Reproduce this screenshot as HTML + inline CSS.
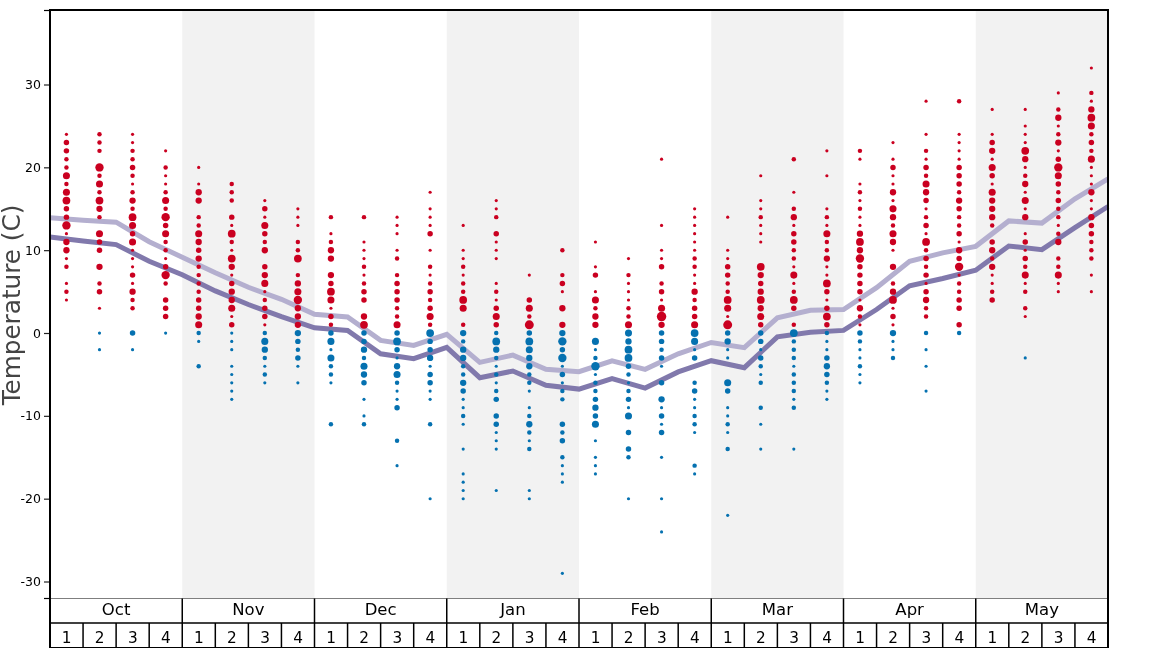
<!DOCTYPE html>
<html lang="en"><head><meta charset="utf-8"><title>Temperature</title>
<style>html,body{margin:0;padding:0;background:#fff}body{width:1168px;height:648px;overflow:hidden}svg{display:block}text{font-family:"DejaVu Sans","Liberation Sans",sans-serif;fill:#000}.t{font-size:12.5px;text-anchor:end}.m{font-size:16.5px;text-anchor:middle}.d{font-size:15.3px;text-anchor:middle}.yl{font-size:24.7px;fill:#444;text-anchor:middle}</style></head><body>
<svg width="1168" height="648" viewBox="0 0 1168 648">
<rect width="1168" height="648" fill="#fff"/>
<rect x="182.25" y="10.0" width="132.25" height="588.5" fill="#f2f2f2"/>
<rect x="446.75" y="10.0" width="132.25" height="588.5" fill="#f2f2f2"/>
<rect x="711.25" y="10.0" width="132.25" height="588.5" fill="#f2f2f2"/>
<rect x="975.75" y="10.0" width="132.25" height="588.5" fill="#f2f2f2"/>
<polyline points="50.00,217.70 83.06,220.20 116.12,222.20 149.19,241.70 182.25,257.20 215.31,272.70 248.38,287.30 281.44,299.30 314.50,314.25 347.56,316.90 380.62,340.40 413.69,345.40 446.75,334.35 479.81,362.40 512.88,355.10 545.94,369.30 579.00,371.70 612.06,360.90 645.12,369.30 678.19,353.80 711.25,342.45 744.31,347.60 777.38,317.80 810.44,310.30 843.50,309.55 876.56,287.70 909.62,261.40 942.69,252.90 975.75,246.35 1008.81,220.90 1041.88,223.10 1074.94,198.80 1108.00,178.80" fill="none" stroke="#b4afcf" stroke-width="5" stroke-linejoin="miter"/>
<polyline points="50.00,236.90 83.06,241.10 116.12,244.60 149.19,261.20 182.25,274.70 215.31,290.90 248.38,304.50 281.44,316.60 314.50,327.85 347.56,330.50 380.62,353.80 413.69,358.60 446.75,347.30 479.81,377.70 512.88,371.00 545.94,385.30 579.00,389.10 612.06,378.70 645.12,388.10 678.19,371.90 711.25,360.70 744.31,367.70 777.38,336.80 810.44,332.30 843.50,330.40 876.56,309.50 909.62,285.80 942.69,278.50 975.75,270.15 1008.81,246.00 1041.88,249.70 1074.94,227.70 1108.00,206.50" fill="none" stroke="#8179ac" stroke-width="5" stroke-linejoin="miter"/>
<g fill="#ca0020"><circle cx="66.43" cy="134.30" r="1.58"/><circle cx="66.43" cy="142.58" r="2.74"/><circle cx="66.43" cy="150.87" r="2.74"/><circle cx="66.43" cy="159.15" r="2.23"/><circle cx="66.43" cy="167.43" r="2.23"/><circle cx="66.43" cy="175.72" r="3.53"/><circle cx="66.43" cy="184.00" r="2.23"/><circle cx="66.43" cy="192.28" r="3.53"/><circle cx="66.43" cy="200.57" r="3.87"/><circle cx="66.43" cy="208.85" r="2.74"/><circle cx="66.43" cy="217.13" r="2.74"/><circle cx="66.43" cy="225.42" r="4.18"/><circle cx="66.43" cy="233.70" r="1.58"/><circle cx="66.43" cy="241.98" r="3.16"/><circle cx="66.43" cy="250.27" r="3.16"/><circle cx="66.43" cy="258.55" r="1.58"/><circle cx="66.43" cy="266.83" r="2.23"/><circle cx="66.43" cy="283.40" r="1.58"/><circle cx="66.43" cy="291.68" r="2.23"/><circle cx="66.43" cy="299.97" r="1.58"/></g>
<g fill="#ca0020"><circle cx="99.49" cy="134.30" r="2.23"/><circle cx="99.49" cy="142.58" r="2.23"/><circle cx="99.49" cy="150.87" r="2.23"/><circle cx="99.49" cy="167.43" r="4.18"/><circle cx="99.49" cy="175.72" r="2.23"/><circle cx="99.49" cy="184.00" r="3.53"/><circle cx="99.49" cy="192.28" r="2.23"/><circle cx="99.49" cy="200.57" r="3.87"/><circle cx="99.49" cy="208.85" r="3.16"/><circle cx="99.49" cy="217.13" r="2.23"/><circle cx="99.49" cy="233.70" r="3.53"/><circle cx="99.49" cy="241.98" r="2.74"/><circle cx="99.49" cy="250.27" r="2.74"/><circle cx="99.49" cy="266.83" r="3.16"/><circle cx="99.49" cy="283.40" r="2.23"/><circle cx="99.49" cy="291.68" r="2.74"/><circle cx="99.49" cy="308.25" r="1.58"/></g>
<g fill="#0571b0"><circle cx="99.49" cy="333.10" r="1.58"/><circle cx="99.49" cy="349.67" r="1.58"/></g>
<g fill="#ca0020"><circle cx="132.56" cy="134.30" r="1.58"/><circle cx="132.56" cy="142.58" r="1.58"/><circle cx="132.56" cy="150.87" r="2.23"/><circle cx="132.56" cy="159.15" r="2.23"/><circle cx="132.56" cy="167.43" r="2.74"/><circle cx="132.56" cy="175.72" r="2.23"/><circle cx="132.56" cy="184.00" r="1.58"/><circle cx="132.56" cy="192.28" r="2.23"/><circle cx="132.56" cy="200.57" r="3.16"/><circle cx="132.56" cy="208.85" r="2.23"/><circle cx="132.56" cy="217.13" r="3.87"/><circle cx="132.56" cy="225.42" r="3.53"/><circle cx="132.56" cy="233.70" r="2.74"/><circle cx="132.56" cy="241.98" r="3.53"/><circle cx="132.56" cy="250.27" r="1.58"/><circle cx="132.56" cy="258.55" r="1.58"/><circle cx="132.56" cy="266.83" r="1.58"/><circle cx="132.56" cy="275.12" r="2.74"/><circle cx="132.56" cy="283.40" r="1.58"/><circle cx="132.56" cy="291.68" r="3.16"/><circle cx="132.56" cy="299.97" r="2.23"/><circle cx="132.56" cy="308.25" r="2.23"/></g>
<g fill="#0571b0"><circle cx="132.56" cy="333.10" r="2.74"/><circle cx="132.56" cy="349.67" r="1.58"/></g>
<g fill="#ca0020"><circle cx="165.62" cy="150.87" r="1.58"/><circle cx="165.62" cy="167.43" r="2.23"/><circle cx="165.62" cy="175.72" r="1.58"/><circle cx="165.62" cy="184.00" r="1.58"/><circle cx="165.62" cy="192.28" r="2.23"/><circle cx="165.62" cy="200.57" r="3.53"/><circle cx="165.62" cy="208.85" r="2.23"/><circle cx="165.62" cy="217.13" r="4.18"/><circle cx="165.62" cy="225.42" r="2.74"/><circle cx="165.62" cy="233.70" r="3.53"/><circle cx="165.62" cy="241.98" r="2.23"/><circle cx="165.62" cy="250.27" r="2.23"/><circle cx="165.62" cy="258.55" r="1.58"/><circle cx="165.62" cy="266.83" r="2.74"/><circle cx="165.62" cy="275.12" r="4.18"/><circle cx="165.62" cy="283.40" r="2.23"/><circle cx="165.62" cy="299.97" r="2.74"/><circle cx="165.62" cy="308.25" r="2.74"/><circle cx="165.62" cy="316.53" r="2.74"/></g>
<g fill="#0571b0"><circle cx="165.62" cy="333.10" r="1.58"/></g>
<g fill="#ca0020"><circle cx="198.68" cy="167.43" r="1.58"/><circle cx="198.68" cy="184.00" r="1.58"/><circle cx="198.68" cy="192.28" r="3.16"/><circle cx="198.68" cy="200.57" r="3.16"/><circle cx="198.68" cy="217.13" r="2.23"/><circle cx="198.68" cy="225.42" r="2.23"/><circle cx="198.68" cy="233.70" r="3.53"/><circle cx="198.68" cy="241.98" r="3.16"/><circle cx="198.68" cy="250.27" r="2.74"/><circle cx="198.68" cy="258.55" r="3.16"/><circle cx="198.68" cy="266.83" r="2.23"/><circle cx="198.68" cy="275.12" r="2.23"/><circle cx="198.68" cy="283.40" r="2.23"/><circle cx="198.68" cy="291.68" r="2.23"/><circle cx="198.68" cy="299.97" r="2.74"/><circle cx="198.68" cy="308.25" r="2.74"/><circle cx="198.68" cy="316.53" r="3.16"/><circle cx="198.68" cy="324.82" r="3.53"/></g>
<g fill="#0571b0"><circle cx="198.68" cy="333.10" r="2.23"/><circle cx="198.68" cy="341.38" r="1.58"/><circle cx="198.68" cy="366.23" r="2.23"/></g>
<g fill="#ca0020"><circle cx="231.74" cy="184.00" r="2.23"/><circle cx="231.74" cy="192.28" r="2.23"/><circle cx="231.74" cy="200.57" r="2.23"/><circle cx="231.74" cy="217.13" r="2.74"/><circle cx="231.74" cy="225.42" r="1.58"/><circle cx="231.74" cy="233.70" r="3.87"/><circle cx="231.74" cy="241.98" r="2.23"/><circle cx="231.74" cy="250.27" r="1.58"/><circle cx="231.74" cy="258.55" r="3.87"/><circle cx="231.74" cy="266.83" r="3.16"/><circle cx="231.74" cy="275.12" r="1.58"/><circle cx="231.74" cy="283.40" r="2.74"/><circle cx="231.74" cy="291.68" r="3.16"/><circle cx="231.74" cy="299.97" r="3.16"/><circle cx="231.74" cy="308.25" r="3.53"/><circle cx="231.74" cy="316.53" r="1.58"/><circle cx="231.74" cy="324.82" r="2.74"/></g>
<g fill="#0571b0"><circle cx="231.74" cy="333.10" r="1.58"/><circle cx="231.74" cy="341.38" r="1.58"/><circle cx="231.74" cy="349.67" r="1.58"/><circle cx="231.74" cy="366.23" r="1.58"/><circle cx="231.74" cy="374.52" r="1.58"/><circle cx="231.74" cy="382.80" r="1.58"/><circle cx="231.74" cy="391.08" r="1.58"/><circle cx="231.74" cy="399.37" r="1.58"/></g>
<g fill="#ca0020"><circle cx="264.81" cy="200.57" r="1.58"/><circle cx="264.81" cy="208.85" r="2.74"/><circle cx="264.81" cy="217.13" r="1.58"/><circle cx="264.81" cy="225.42" r="3.53"/><circle cx="264.81" cy="233.70" r="2.74"/><circle cx="264.81" cy="241.98" r="2.23"/><circle cx="264.81" cy="250.27" r="3.16"/><circle cx="264.81" cy="266.83" r="2.74"/><circle cx="264.81" cy="275.12" r="3.16"/><circle cx="264.81" cy="283.40" r="3.53"/><circle cx="264.81" cy="291.68" r="1.58"/><circle cx="264.81" cy="299.97" r="2.23"/><circle cx="264.81" cy="308.25" r="2.74"/><circle cx="264.81" cy="316.53" r="2.74"/><circle cx="264.81" cy="324.82" r="1.58"/></g>
<g fill="#0571b0"><circle cx="264.81" cy="333.10" r="2.23"/><circle cx="264.81" cy="341.38" r="3.53"/><circle cx="264.81" cy="349.67" r="3.16"/><circle cx="264.81" cy="357.95" r="2.23"/><circle cx="264.81" cy="366.23" r="1.58"/><circle cx="264.81" cy="374.52" r="2.23"/><circle cx="264.81" cy="382.80" r="1.58"/></g>
<g fill="#ca0020"><circle cx="297.87" cy="208.85" r="1.58"/><circle cx="297.87" cy="217.13" r="1.58"/><circle cx="297.87" cy="225.42" r="1.58"/><circle cx="297.87" cy="241.98" r="2.23"/><circle cx="297.87" cy="250.27" r="2.23"/><circle cx="297.87" cy="258.55" r="3.87"/><circle cx="297.87" cy="275.12" r="2.23"/><circle cx="297.87" cy="283.40" r="3.16"/><circle cx="297.87" cy="291.68" r="3.53"/><circle cx="297.87" cy="299.97" r="4.18"/><circle cx="297.87" cy="308.25" r="3.16"/><circle cx="297.87" cy="316.53" r="3.16"/><circle cx="297.87" cy="324.82" r="3.16"/></g>
<g fill="#0571b0"><circle cx="297.87" cy="333.10" r="3.16"/><circle cx="297.87" cy="341.38" r="2.74"/><circle cx="297.87" cy="349.67" r="2.23"/><circle cx="297.87" cy="357.95" r="2.74"/><circle cx="297.87" cy="366.23" r="1.58"/><circle cx="297.87" cy="382.80" r="1.58"/></g>
<g fill="#ca0020"><circle cx="330.93" cy="217.13" r="2.23"/><circle cx="330.93" cy="233.70" r="1.58"/><circle cx="330.93" cy="241.98" r="2.23"/><circle cx="330.93" cy="250.27" r="3.16"/><circle cx="330.93" cy="258.55" r="3.16"/><circle cx="330.93" cy="275.12" r="3.16"/><circle cx="330.93" cy="283.40" r="2.74"/><circle cx="330.93" cy="291.68" r="3.87"/><circle cx="330.93" cy="299.97" r="3.53"/><circle cx="330.93" cy="308.25" r="1.58"/><circle cx="330.93" cy="316.53" r="2.74"/><circle cx="330.93" cy="324.82" r="2.23"/></g>
<g fill="#0571b0"><circle cx="330.93" cy="333.10" r="2.74"/><circle cx="330.93" cy="341.38" r="3.53"/><circle cx="330.93" cy="349.67" r="1.58"/><circle cx="330.93" cy="357.95" r="3.53"/><circle cx="330.93" cy="366.23" r="2.23"/><circle cx="330.93" cy="374.52" r="2.23"/><circle cx="330.93" cy="382.80" r="1.58"/><circle cx="330.93" cy="424.22" r="2.23"/></g>
<g fill="#ca0020"><circle cx="363.99" cy="217.13" r="2.23"/><circle cx="363.99" cy="241.98" r="1.58"/><circle cx="363.99" cy="250.27" r="1.58"/><circle cx="363.99" cy="258.55" r="1.58"/><circle cx="363.99" cy="266.83" r="2.23"/><circle cx="363.99" cy="275.12" r="1.58"/><circle cx="363.99" cy="283.40" r="2.23"/><circle cx="363.99" cy="291.68" r="2.74"/><circle cx="363.99" cy="299.97" r="2.74"/><circle cx="363.99" cy="316.53" r="3.16"/><circle cx="363.99" cy="324.82" r="3.87"/></g>
<g fill="#0571b0"><circle cx="363.99" cy="333.10" r="2.74"/><circle cx="363.99" cy="341.38" r="2.74"/><circle cx="363.99" cy="349.67" r="3.16"/><circle cx="363.99" cy="357.95" r="2.23"/><circle cx="363.99" cy="366.23" r="3.53"/><circle cx="363.99" cy="374.52" r="3.16"/><circle cx="363.99" cy="382.80" r="2.74"/><circle cx="363.99" cy="399.37" r="1.58"/><circle cx="363.99" cy="415.93" r="1.58"/><circle cx="363.99" cy="424.22" r="2.23"/></g>
<g fill="#ca0020"><circle cx="397.06" cy="217.13" r="1.58"/><circle cx="397.06" cy="225.42" r="1.58"/><circle cx="397.06" cy="233.70" r="1.58"/><circle cx="397.06" cy="250.27" r="1.58"/><circle cx="397.06" cy="258.55" r="2.23"/><circle cx="397.06" cy="275.12" r="2.23"/><circle cx="397.06" cy="283.40" r="2.74"/><circle cx="397.06" cy="291.68" r="2.74"/><circle cx="397.06" cy="299.97" r="2.74"/><circle cx="397.06" cy="308.25" r="2.23"/><circle cx="397.06" cy="316.53" r="2.23"/><circle cx="397.06" cy="324.82" r="3.53"/></g>
<g fill="#0571b0"><circle cx="397.06" cy="333.10" r="2.74"/><circle cx="397.06" cy="341.38" r="3.87"/><circle cx="397.06" cy="349.67" r="2.74"/><circle cx="397.06" cy="357.95" r="1.58"/><circle cx="397.06" cy="366.23" r="3.16"/><circle cx="397.06" cy="374.52" r="3.53"/><circle cx="397.06" cy="382.80" r="2.23"/><circle cx="397.06" cy="391.08" r="1.58"/><circle cx="397.06" cy="399.37" r="1.58"/><circle cx="397.06" cy="407.65" r="2.74"/><circle cx="397.06" cy="440.78" r="2.23"/><circle cx="397.06" cy="465.63" r="1.58"/></g>
<g fill="#ca0020"><circle cx="430.12" cy="192.28" r="1.58"/><circle cx="430.12" cy="208.85" r="1.58"/><circle cx="430.12" cy="217.13" r="1.58"/><circle cx="430.12" cy="225.42" r="1.58"/><circle cx="430.12" cy="233.70" r="2.74"/><circle cx="430.12" cy="250.27" r="1.58"/><circle cx="430.12" cy="266.83" r="2.23"/><circle cx="430.12" cy="275.12" r="1.58"/><circle cx="430.12" cy="283.40" r="2.23"/><circle cx="430.12" cy="291.68" r="2.74"/><circle cx="430.12" cy="299.97" r="2.23"/><circle cx="430.12" cy="308.25" r="2.74"/><circle cx="430.12" cy="316.53" r="3.53"/><circle cx="430.12" cy="324.82" r="2.23"/></g>
<g fill="#0571b0"><circle cx="430.12" cy="333.10" r="3.87"/><circle cx="430.12" cy="341.38" r="2.74"/><circle cx="430.12" cy="349.67" r="2.74"/><circle cx="430.12" cy="357.95" r="3.16"/><circle cx="430.12" cy="366.23" r="1.58"/><circle cx="430.12" cy="374.52" r="2.74"/><circle cx="430.12" cy="382.80" r="2.74"/><circle cx="430.12" cy="391.08" r="1.58"/><circle cx="430.12" cy="399.37" r="1.58"/><circle cx="430.12" cy="424.22" r="2.23"/><circle cx="430.12" cy="498.77" r="1.58"/></g>
<g fill="#ca0020"><circle cx="463.18" cy="225.42" r="1.58"/><circle cx="463.18" cy="250.27" r="1.58"/><circle cx="463.18" cy="258.55" r="1.58"/><circle cx="463.18" cy="266.83" r="2.23"/><circle cx="463.18" cy="275.12" r="1.58"/><circle cx="463.18" cy="283.40" r="2.23"/><circle cx="463.18" cy="291.68" r="2.23"/><circle cx="463.18" cy="299.97" r="3.87"/><circle cx="463.18" cy="308.25" r="3.53"/><circle cx="463.18" cy="324.82" r="2.23"/></g>
<g fill="#0571b0"><circle cx="463.18" cy="333.10" r="3.16"/><circle cx="463.18" cy="341.38" r="2.23"/><circle cx="463.18" cy="349.67" r="3.16"/><circle cx="463.18" cy="357.95" r="3.16"/><circle cx="463.18" cy="366.23" r="2.23"/><circle cx="463.18" cy="374.52" r="2.23"/><circle cx="463.18" cy="382.80" r="3.16"/><circle cx="463.18" cy="391.08" r="2.74"/><circle cx="463.18" cy="399.37" r="1.58"/><circle cx="463.18" cy="407.65" r="1.58"/><circle cx="463.18" cy="415.93" r="2.23"/><circle cx="463.18" cy="424.22" r="1.58"/><circle cx="463.18" cy="449.07" r="1.58"/><circle cx="463.18" cy="473.92" r="1.58"/><circle cx="463.18" cy="482.20" r="1.58"/><circle cx="463.18" cy="490.48" r="1.58"/><circle cx="463.18" cy="498.77" r="1.58"/></g>
<g fill="#ca0020"><circle cx="496.24" cy="200.57" r="1.58"/><circle cx="496.24" cy="208.85" r="1.58"/><circle cx="496.24" cy="217.13" r="2.23"/><circle cx="496.24" cy="233.70" r="2.74"/><circle cx="496.24" cy="241.98" r="1.58"/><circle cx="496.24" cy="250.27" r="1.58"/><circle cx="496.24" cy="258.55" r="1.58"/><circle cx="496.24" cy="283.40" r="1.58"/><circle cx="496.24" cy="291.68" r="2.23"/><circle cx="496.24" cy="299.97" r="1.58"/><circle cx="496.24" cy="308.25" r="2.74"/><circle cx="496.24" cy="316.53" r="3.53"/><circle cx="496.24" cy="324.82" r="2.74"/></g>
<g fill="#0571b0"><circle cx="496.24" cy="333.10" r="2.23"/><circle cx="496.24" cy="341.38" r="3.87"/><circle cx="496.24" cy="349.67" r="3.16"/><circle cx="496.24" cy="357.95" r="2.23"/><circle cx="496.24" cy="366.23" r="1.58"/><circle cx="496.24" cy="374.52" r="2.23"/><circle cx="496.24" cy="382.80" r="1.58"/><circle cx="496.24" cy="391.08" r="2.23"/><circle cx="496.24" cy="399.37" r="2.74"/><circle cx="496.24" cy="415.93" r="2.74"/><circle cx="496.24" cy="424.22" r="2.74"/><circle cx="496.24" cy="432.50" r="1.58"/><circle cx="496.24" cy="440.78" r="1.58"/><circle cx="496.24" cy="449.07" r="1.58"/><circle cx="496.24" cy="490.48" r="1.58"/></g>
<g fill="#ca0020"><circle cx="529.31" cy="275.12" r="1.58"/><circle cx="529.31" cy="299.97" r="2.74"/><circle cx="529.31" cy="308.25" r="3.53"/><circle cx="529.31" cy="316.53" r="2.23"/><circle cx="529.31" cy="324.82" r="4.47"/></g>
<g fill="#0571b0"><circle cx="529.31" cy="333.10" r="2.74"/><circle cx="529.31" cy="341.38" r="3.87"/><circle cx="529.31" cy="349.67" r="3.53"/><circle cx="529.31" cy="357.95" r="3.16"/><circle cx="529.31" cy="366.23" r="3.16"/><circle cx="529.31" cy="374.52" r="2.23"/><circle cx="529.31" cy="382.80" r="2.23"/><circle cx="529.31" cy="391.08" r="1.58"/><circle cx="529.31" cy="407.65" r="1.58"/><circle cx="529.31" cy="415.93" r="2.23"/><circle cx="529.31" cy="424.22" r="3.16"/><circle cx="529.31" cy="432.50" r="2.23"/><circle cx="529.31" cy="440.78" r="1.58"/><circle cx="529.31" cy="449.07" r="2.23"/><circle cx="529.31" cy="490.48" r="1.58"/><circle cx="529.31" cy="498.77" r="1.58"/></g>
<g fill="#ca0020"><circle cx="562.37" cy="250.27" r="2.23"/><circle cx="562.37" cy="275.12" r="2.23"/><circle cx="562.37" cy="283.40" r="2.74"/><circle cx="562.37" cy="291.68" r="1.58"/><circle cx="562.37" cy="308.25" r="3.16"/><circle cx="562.37" cy="324.82" r="3.16"/></g>
<g fill="#0571b0"><circle cx="562.37" cy="333.10" r="3.16"/><circle cx="562.37" cy="341.38" r="4.18"/><circle cx="562.37" cy="349.67" r="2.74"/><circle cx="562.37" cy="357.95" r="4.18"/><circle cx="562.37" cy="366.23" r="1.58"/><circle cx="562.37" cy="374.52" r="2.74"/><circle cx="562.37" cy="382.80" r="1.58"/><circle cx="562.37" cy="391.08" r="2.23"/><circle cx="562.37" cy="399.37" r="2.23"/><circle cx="562.37" cy="424.22" r="2.74"/><circle cx="562.37" cy="432.50" r="2.23"/><circle cx="562.37" cy="440.78" r="2.74"/><circle cx="562.37" cy="457.35" r="2.23"/><circle cx="562.37" cy="465.63" r="1.58"/><circle cx="562.37" cy="473.92" r="1.58"/><circle cx="562.37" cy="482.20" r="1.58"/><circle cx="562.37" cy="573.32" r="1.58"/></g>
<g fill="#ca0020"><circle cx="595.43" cy="241.98" r="1.58"/><circle cx="595.43" cy="266.83" r="1.58"/><circle cx="595.43" cy="275.12" r="2.74"/><circle cx="595.43" cy="291.68" r="1.58"/><circle cx="595.43" cy="299.97" r="3.53"/><circle cx="595.43" cy="308.25" r="2.23"/><circle cx="595.43" cy="316.53" r="3.16"/><circle cx="595.43" cy="324.82" r="3.16"/></g>
<g fill="#0571b0"><circle cx="595.43" cy="341.38" r="3.53"/><circle cx="595.43" cy="349.67" r="1.58"/><circle cx="595.43" cy="357.95" r="2.23"/><circle cx="595.43" cy="366.23" r="4.18"/><circle cx="595.43" cy="374.52" r="1.58"/><circle cx="595.43" cy="382.80" r="2.23"/><circle cx="595.43" cy="391.08" r="2.23"/><circle cx="595.43" cy="399.37" r="2.74"/><circle cx="595.43" cy="407.65" r="3.16"/><circle cx="595.43" cy="415.93" r="2.74"/><circle cx="595.43" cy="424.22" r="3.53"/><circle cx="595.43" cy="440.78" r="1.58"/><circle cx="595.43" cy="457.35" r="1.58"/><circle cx="595.43" cy="465.63" r="1.58"/><circle cx="595.43" cy="473.92" r="1.58"/></g>
<g fill="#ca0020"><circle cx="628.49" cy="258.55" r="1.58"/><circle cx="628.49" cy="275.12" r="2.23"/><circle cx="628.49" cy="283.40" r="1.58"/><circle cx="628.49" cy="291.68" r="1.58"/><circle cx="628.49" cy="299.97" r="1.58"/><circle cx="628.49" cy="308.25" r="2.23"/><circle cx="628.49" cy="316.53" r="2.23"/><circle cx="628.49" cy="324.82" r="3.53"/></g>
<g fill="#0571b0"><circle cx="628.49" cy="333.10" r="3.53"/><circle cx="628.49" cy="341.38" r="3.16"/><circle cx="628.49" cy="349.67" r="3.87"/><circle cx="628.49" cy="357.95" r="3.87"/><circle cx="628.49" cy="366.23" r="2.74"/><circle cx="628.49" cy="374.52" r="2.23"/><circle cx="628.49" cy="382.80" r="1.58"/><circle cx="628.49" cy="391.08" r="2.23"/><circle cx="628.49" cy="399.37" r="2.74"/><circle cx="628.49" cy="407.65" r="1.58"/><circle cx="628.49" cy="415.93" r="3.53"/><circle cx="628.49" cy="432.50" r="2.74"/><circle cx="628.49" cy="449.07" r="2.74"/><circle cx="628.49" cy="457.35" r="2.23"/><circle cx="628.49" cy="498.77" r="1.58"/></g>
<g fill="#ca0020"><circle cx="661.56" cy="159.15" r="1.58"/><circle cx="661.56" cy="225.42" r="1.58"/><circle cx="661.56" cy="250.27" r="1.58"/><circle cx="661.56" cy="258.55" r="1.58"/><circle cx="661.56" cy="266.83" r="2.74"/><circle cx="661.56" cy="283.40" r="2.23"/><circle cx="661.56" cy="291.68" r="2.74"/><circle cx="661.56" cy="299.97" r="1.58"/><circle cx="661.56" cy="308.25" r="3.53"/><circle cx="661.56" cy="316.53" r="4.74"/><circle cx="661.56" cy="324.82" r="3.16"/></g>
<g fill="#0571b0"><circle cx="661.56" cy="333.10" r="2.74"/><circle cx="661.56" cy="341.38" r="2.74"/><circle cx="661.56" cy="349.67" r="2.23"/><circle cx="661.56" cy="357.95" r="2.74"/><circle cx="661.56" cy="366.23" r="1.58"/><circle cx="661.56" cy="382.80" r="2.74"/><circle cx="661.56" cy="399.37" r="3.16"/><circle cx="661.56" cy="407.65" r="1.58"/><circle cx="661.56" cy="415.93" r="2.74"/><circle cx="661.56" cy="424.22" r="1.58"/><circle cx="661.56" cy="432.50" r="2.74"/><circle cx="661.56" cy="457.35" r="1.58"/><circle cx="661.56" cy="498.77" r="1.58"/><circle cx="661.56" cy="531.90" r="1.58"/></g>
<g fill="#ca0020"><circle cx="694.62" cy="208.85" r="1.58"/><circle cx="694.62" cy="217.13" r="1.58"/><circle cx="694.62" cy="225.42" r="1.58"/><circle cx="694.62" cy="233.70" r="1.58"/><circle cx="694.62" cy="241.98" r="1.58"/><circle cx="694.62" cy="250.27" r="1.58"/><circle cx="694.62" cy="258.55" r="2.23"/><circle cx="694.62" cy="266.83" r="2.23"/><circle cx="694.62" cy="275.12" r="1.58"/><circle cx="694.62" cy="283.40" r="1.58"/><circle cx="694.62" cy="291.68" r="3.16"/><circle cx="694.62" cy="299.97" r="2.23"/><circle cx="694.62" cy="308.25" r="2.74"/><circle cx="694.62" cy="316.53" r="2.74"/><circle cx="694.62" cy="324.82" r="3.53"/></g>
<g fill="#0571b0"><circle cx="694.62" cy="333.10" r="3.87"/><circle cx="694.62" cy="341.38" r="3.53"/><circle cx="694.62" cy="349.67" r="1.58"/><circle cx="694.62" cy="357.95" r="2.74"/><circle cx="694.62" cy="382.80" r="2.23"/><circle cx="694.62" cy="391.08" r="2.74"/><circle cx="694.62" cy="399.37" r="1.58"/><circle cx="694.62" cy="407.65" r="1.58"/><circle cx="694.62" cy="415.93" r="2.23"/><circle cx="694.62" cy="424.22" r="2.23"/><circle cx="694.62" cy="432.50" r="1.58"/><circle cx="694.62" cy="465.63" r="2.23"/><circle cx="694.62" cy="473.92" r="1.58"/></g>
<g fill="#ca0020"><circle cx="727.68" cy="217.13" r="1.58"/><circle cx="727.68" cy="250.27" r="1.58"/><circle cx="727.68" cy="258.55" r="1.58"/><circle cx="727.68" cy="266.83" r="2.74"/><circle cx="727.68" cy="275.12" r="2.74"/><circle cx="727.68" cy="283.40" r="2.23"/><circle cx="727.68" cy="291.68" r="2.23"/><circle cx="727.68" cy="299.97" r="3.87"/><circle cx="727.68" cy="308.25" r="3.53"/><circle cx="727.68" cy="316.53" r="1.58"/><circle cx="727.68" cy="324.82" r="4.47"/></g>
<g fill="#0571b0"><circle cx="727.68" cy="333.10" r="2.74"/><circle cx="727.68" cy="341.38" r="3.16"/><circle cx="727.68" cy="349.67" r="1.58"/><circle cx="727.68" cy="357.95" r="1.58"/><circle cx="727.68" cy="382.80" r="3.53"/><circle cx="727.68" cy="391.08" r="2.74"/><circle cx="727.68" cy="407.65" r="1.58"/><circle cx="727.68" cy="415.93" r="1.58"/><circle cx="727.68" cy="424.22" r="2.23"/><circle cx="727.68" cy="432.50" r="1.58"/><circle cx="727.68" cy="449.07" r="2.23"/><circle cx="727.68" cy="515.33" r="1.58"/></g>
<g fill="#ca0020"><circle cx="760.74" cy="175.72" r="1.58"/><circle cx="760.74" cy="200.57" r="1.58"/><circle cx="760.74" cy="208.85" r="1.58"/><circle cx="760.74" cy="217.13" r="2.23"/><circle cx="760.74" cy="225.42" r="1.58"/><circle cx="760.74" cy="233.70" r="1.58"/><circle cx="760.74" cy="241.98" r="1.58"/><circle cx="760.74" cy="266.83" r="3.87"/><circle cx="760.74" cy="275.12" r="3.16"/><circle cx="760.74" cy="283.40" r="2.74"/><circle cx="760.74" cy="291.68" r="3.16"/><circle cx="760.74" cy="299.97" r="3.87"/><circle cx="760.74" cy="308.25" r="3.16"/><circle cx="760.74" cy="316.53" r="3.53"/><circle cx="760.74" cy="324.82" r="2.74"/></g>
<g fill="#0571b0"><circle cx="760.74" cy="333.10" r="2.74"/><circle cx="760.74" cy="341.38" r="2.74"/><circle cx="760.74" cy="349.67" r="1.58"/><circle cx="760.74" cy="357.95" r="2.74"/><circle cx="760.74" cy="366.23" r="2.23"/><circle cx="760.74" cy="374.52" r="1.58"/><circle cx="760.74" cy="382.80" r="2.23"/><circle cx="760.74" cy="407.65" r="2.23"/><circle cx="760.74" cy="424.22" r="1.58"/><circle cx="760.74" cy="449.07" r="1.58"/></g>
<g fill="#ca0020"><circle cx="793.81" cy="159.15" r="2.23"/><circle cx="793.81" cy="192.28" r="1.58"/><circle cx="793.81" cy="208.85" r="2.23"/><circle cx="793.81" cy="217.13" r="3.16"/><circle cx="793.81" cy="225.42" r="1.58"/><circle cx="793.81" cy="233.70" r="2.74"/><circle cx="793.81" cy="241.98" r="2.74"/><circle cx="793.81" cy="250.27" r="2.23"/><circle cx="793.81" cy="258.55" r="2.23"/><circle cx="793.81" cy="266.83" r="1.58"/><circle cx="793.81" cy="275.12" r="3.53"/><circle cx="793.81" cy="283.40" r="1.58"/><circle cx="793.81" cy="291.68" r="2.23"/><circle cx="793.81" cy="299.97" r="3.87"/><circle cx="793.81" cy="308.25" r="2.74"/><circle cx="793.81" cy="324.82" r="2.23"/></g>
<g fill="#0571b0"><circle cx="793.81" cy="333.10" r="3.87"/><circle cx="793.81" cy="341.38" r="2.23"/><circle cx="793.81" cy="349.67" r="2.23"/><circle cx="793.81" cy="357.95" r="2.23"/><circle cx="793.81" cy="366.23" r="1.58"/><circle cx="793.81" cy="374.52" r="2.23"/><circle cx="793.81" cy="382.80" r="2.23"/><circle cx="793.81" cy="391.08" r="2.23"/><circle cx="793.81" cy="399.37" r="1.58"/><circle cx="793.81" cy="407.65" r="2.23"/><circle cx="793.81" cy="449.07" r="1.58"/></g>
<g fill="#ca0020"><circle cx="826.87" cy="150.87" r="1.58"/><circle cx="826.87" cy="175.72" r="1.58"/><circle cx="826.87" cy="208.85" r="1.58"/><circle cx="826.87" cy="217.13" r="2.23"/><circle cx="826.87" cy="225.42" r="1.58"/><circle cx="826.87" cy="233.70" r="3.53"/><circle cx="826.87" cy="241.98" r="2.23"/><circle cx="826.87" cy="250.27" r="2.23"/><circle cx="826.87" cy="258.55" r="3.16"/><circle cx="826.87" cy="266.83" r="1.58"/><circle cx="826.87" cy="275.12" r="1.58"/><circle cx="826.87" cy="283.40" r="3.87"/><circle cx="826.87" cy="291.68" r="2.74"/><circle cx="826.87" cy="299.97" r="1.58"/><circle cx="826.87" cy="308.25" r="2.74"/><circle cx="826.87" cy="316.53" r="3.87"/><circle cx="826.87" cy="324.82" r="2.74"/></g>
<g fill="#0571b0"><circle cx="826.87" cy="333.10" r="2.23"/><circle cx="826.87" cy="341.38" r="1.58"/><circle cx="826.87" cy="349.67" r="1.58"/><circle cx="826.87" cy="357.95" r="2.74"/><circle cx="826.87" cy="366.23" r="3.16"/><circle cx="826.87" cy="374.52" r="2.74"/><circle cx="826.87" cy="382.80" r="2.23"/><circle cx="826.87" cy="391.08" r="1.58"/><circle cx="826.87" cy="399.37" r="1.58"/></g>
<g fill="#ca0020"><circle cx="859.93" cy="150.87" r="2.23"/><circle cx="859.93" cy="159.15" r="1.58"/><circle cx="859.93" cy="184.00" r="1.58"/><circle cx="859.93" cy="192.28" r="2.23"/><circle cx="859.93" cy="200.57" r="1.58"/><circle cx="859.93" cy="208.85" r="2.23"/><circle cx="859.93" cy="217.13" r="1.58"/><circle cx="859.93" cy="225.42" r="1.58"/><circle cx="859.93" cy="233.70" r="3.16"/><circle cx="859.93" cy="241.98" r="3.87"/><circle cx="859.93" cy="250.27" r="3.16"/><circle cx="859.93" cy="258.55" r="4.18"/><circle cx="859.93" cy="266.83" r="2.74"/><circle cx="859.93" cy="275.12" r="2.74"/><circle cx="859.93" cy="283.40" r="2.74"/><circle cx="859.93" cy="291.68" r="2.74"/><circle cx="859.93" cy="299.97" r="1.58"/><circle cx="859.93" cy="308.25" r="3.16"/><circle cx="859.93" cy="316.53" r="2.23"/><circle cx="859.93" cy="324.82" r="1.58"/></g>
<g fill="#0571b0"><circle cx="859.93" cy="333.10" r="2.74"/><circle cx="859.93" cy="341.38" r="2.23"/><circle cx="859.93" cy="349.67" r="1.58"/><circle cx="859.93" cy="357.95" r="1.58"/><circle cx="859.93" cy="366.23" r="2.23"/><circle cx="859.93" cy="374.52" r="1.58"/><circle cx="859.93" cy="382.80" r="1.58"/></g>
<g fill="#ca0020"><circle cx="892.99" cy="142.58" r="1.58"/><circle cx="892.99" cy="159.15" r="1.58"/><circle cx="892.99" cy="167.43" r="2.74"/><circle cx="892.99" cy="175.72" r="1.58"/><circle cx="892.99" cy="184.00" r="1.58"/><circle cx="892.99" cy="192.28" r="3.16"/><circle cx="892.99" cy="200.57" r="1.58"/><circle cx="892.99" cy="208.85" r="3.53"/><circle cx="892.99" cy="217.13" r="3.16"/><circle cx="892.99" cy="225.42" r="2.23"/><circle cx="892.99" cy="233.70" r="3.53"/><circle cx="892.99" cy="241.98" r="3.16"/><circle cx="892.99" cy="250.27" r="1.58"/><circle cx="892.99" cy="266.83" r="3.16"/><circle cx="892.99" cy="283.40" r="2.23"/><circle cx="892.99" cy="291.68" r="3.16"/><circle cx="892.99" cy="299.97" r="3.87"/><circle cx="892.99" cy="308.25" r="1.58"/><circle cx="892.99" cy="316.53" r="2.74"/><circle cx="892.99" cy="324.82" r="1.58"/></g>
<g fill="#0571b0"><circle cx="892.99" cy="333.10" r="3.16"/><circle cx="892.99" cy="341.38" r="1.58"/><circle cx="892.99" cy="349.67" r="1.58"/><circle cx="892.99" cy="357.95" r="2.23"/></g>
<g fill="#ca0020"><circle cx="926.06" cy="101.17" r="1.58"/><circle cx="926.06" cy="134.30" r="1.58"/><circle cx="926.06" cy="150.87" r="2.23"/><circle cx="926.06" cy="159.15" r="1.58"/><circle cx="926.06" cy="167.43" r="2.74"/><circle cx="926.06" cy="175.72" r="2.23"/><circle cx="926.06" cy="184.00" r="3.53"/><circle cx="926.06" cy="192.28" r="3.16"/><circle cx="926.06" cy="200.57" r="2.74"/><circle cx="926.06" cy="208.85" r="1.58"/><circle cx="926.06" cy="217.13" r="2.23"/><circle cx="926.06" cy="225.42" r="2.74"/><circle cx="926.06" cy="233.70" r="1.58"/><circle cx="926.06" cy="241.98" r="3.87"/><circle cx="926.06" cy="250.27" r="2.23"/><circle cx="926.06" cy="258.55" r="2.74"/><circle cx="926.06" cy="266.83" r="2.23"/><circle cx="926.06" cy="275.12" r="2.74"/><circle cx="926.06" cy="283.40" r="1.58"/><circle cx="926.06" cy="291.68" r="2.74"/><circle cx="926.06" cy="299.97" r="3.16"/><circle cx="926.06" cy="308.25" r="2.23"/><circle cx="926.06" cy="316.53" r="2.23"/></g>
<g fill="#0571b0"><circle cx="926.06" cy="333.10" r="2.23"/><circle cx="926.06" cy="349.67" r="1.58"/><circle cx="926.06" cy="366.23" r="1.58"/><circle cx="926.06" cy="391.08" r="1.58"/></g>
<g fill="#ca0020"><circle cx="959.12" cy="101.17" r="2.23"/><circle cx="959.12" cy="134.30" r="1.58"/><circle cx="959.12" cy="142.58" r="1.58"/><circle cx="959.12" cy="150.87" r="1.58"/><circle cx="959.12" cy="159.15" r="1.58"/><circle cx="959.12" cy="167.43" r="2.74"/><circle cx="959.12" cy="175.72" r="2.74"/><circle cx="959.12" cy="184.00" r="2.74"/><circle cx="959.12" cy="192.28" r="2.23"/><circle cx="959.12" cy="200.57" r="3.16"/><circle cx="959.12" cy="208.85" r="2.74"/><circle cx="959.12" cy="217.13" r="2.23"/><circle cx="959.12" cy="225.42" r="2.23"/><circle cx="959.12" cy="233.70" r="2.74"/><circle cx="959.12" cy="241.98" r="1.58"/><circle cx="959.12" cy="250.27" r="3.16"/><circle cx="959.12" cy="258.55" r="2.74"/><circle cx="959.12" cy="266.83" r="4.18"/><circle cx="959.12" cy="275.12" r="1.58"/><circle cx="959.12" cy="283.40" r="2.23"/><circle cx="959.12" cy="291.68" r="2.23"/><circle cx="959.12" cy="299.97" r="2.74"/><circle cx="959.12" cy="308.25" r="2.74"/><circle cx="959.12" cy="324.82" r="2.74"/></g>
<g fill="#0571b0"><circle cx="959.12" cy="333.10" r="2.23"/></g>
<g fill="#ca0020"><circle cx="992.18" cy="109.45" r="1.58"/><circle cx="992.18" cy="134.30" r="1.58"/><circle cx="992.18" cy="142.58" r="2.74"/><circle cx="992.18" cy="150.87" r="3.16"/><circle cx="992.18" cy="159.15" r="1.58"/><circle cx="992.18" cy="167.43" r="3.53"/><circle cx="992.18" cy="175.72" r="2.74"/><circle cx="992.18" cy="184.00" r="1.58"/><circle cx="992.18" cy="192.28" r="3.53"/><circle cx="992.18" cy="200.57" r="3.16"/><circle cx="992.18" cy="208.85" r="3.16"/><circle cx="992.18" cy="217.13" r="3.16"/><circle cx="992.18" cy="225.42" r="2.23"/><circle cx="992.18" cy="241.98" r="2.74"/><circle cx="992.18" cy="250.27" r="3.16"/><circle cx="992.18" cy="258.55" r="2.23"/><circle cx="992.18" cy="266.83" r="3.16"/><circle cx="992.18" cy="275.12" r="1.58"/><circle cx="992.18" cy="283.40" r="1.58"/><circle cx="992.18" cy="291.68" r="2.23"/><circle cx="992.18" cy="299.97" r="2.74"/></g>
<g fill="#ca0020"><circle cx="1025.24" cy="109.45" r="1.58"/><circle cx="1025.24" cy="126.02" r="1.58"/><circle cx="1025.24" cy="134.30" r="1.58"/><circle cx="1025.24" cy="142.58" r="1.58"/><circle cx="1025.24" cy="150.87" r="3.87"/><circle cx="1025.24" cy="159.15" r="3.16"/><circle cx="1025.24" cy="167.43" r="1.58"/><circle cx="1025.24" cy="175.72" r="2.23"/><circle cx="1025.24" cy="184.00" r="3.16"/><circle cx="1025.24" cy="192.28" r="1.58"/><circle cx="1025.24" cy="200.57" r="3.53"/><circle cx="1025.24" cy="208.85" r="1.58"/><circle cx="1025.24" cy="217.13" r="3.16"/><circle cx="1025.24" cy="233.70" r="1.58"/><circle cx="1025.24" cy="241.98" r="2.74"/><circle cx="1025.24" cy="250.27" r="1.58"/><circle cx="1025.24" cy="258.55" r="2.74"/><circle cx="1025.24" cy="266.83" r="2.23"/><circle cx="1025.24" cy="275.12" r="3.53"/><circle cx="1025.24" cy="283.40" r="1.58"/><circle cx="1025.24" cy="291.68" r="2.23"/><circle cx="1025.24" cy="308.25" r="2.23"/><circle cx="1025.24" cy="316.53" r="1.58"/></g>
<g fill="#0571b0"><circle cx="1025.24" cy="357.95" r="1.58"/></g>
<g fill="#ca0020"><circle cx="1058.31" cy="92.88" r="1.58"/><circle cx="1058.31" cy="109.45" r="2.23"/><circle cx="1058.31" cy="117.73" r="3.16"/><circle cx="1058.31" cy="126.02" r="1.58"/><circle cx="1058.31" cy="134.30" r="2.23"/><circle cx="1058.31" cy="142.58" r="3.16"/><circle cx="1058.31" cy="150.87" r="1.58"/><circle cx="1058.31" cy="159.15" r="2.74"/><circle cx="1058.31" cy="167.43" r="4.18"/><circle cx="1058.31" cy="175.72" r="3.53"/><circle cx="1058.31" cy="184.00" r="2.74"/><circle cx="1058.31" cy="192.28" r="2.23"/><circle cx="1058.31" cy="200.57" r="2.74"/><circle cx="1058.31" cy="208.85" r="2.23"/><circle cx="1058.31" cy="217.13" r="2.23"/><circle cx="1058.31" cy="225.42" r="1.58"/><circle cx="1058.31" cy="233.70" r="2.23"/><circle cx="1058.31" cy="241.98" r="3.16"/><circle cx="1058.31" cy="258.55" r="2.23"/><circle cx="1058.31" cy="266.83" r="2.23"/><circle cx="1058.31" cy="275.12" r="3.53"/><circle cx="1058.31" cy="283.40" r="1.58"/><circle cx="1058.31" cy="291.68" r="1.58"/></g>
<g fill="#ca0020"><circle cx="1091.37" cy="68.03" r="1.58"/><circle cx="1091.37" cy="92.88" r="2.23"/><circle cx="1091.37" cy="101.17" r="1.58"/><circle cx="1091.37" cy="109.45" r="3.16"/><circle cx="1091.37" cy="117.73" r="3.87"/><circle cx="1091.37" cy="126.02" r="3.53"/><circle cx="1091.37" cy="134.30" r="2.23"/><circle cx="1091.37" cy="142.58" r="2.74"/><circle cx="1091.37" cy="150.87" r="2.23"/><circle cx="1091.37" cy="159.15" r="3.53"/><circle cx="1091.37" cy="167.43" r="1.58"/><circle cx="1091.37" cy="175.72" r="1.58"/><circle cx="1091.37" cy="184.00" r="1.58"/><circle cx="1091.37" cy="192.28" r="3.16"/><circle cx="1091.37" cy="200.57" r="1.58"/><circle cx="1091.37" cy="208.85" r="1.58"/><circle cx="1091.37" cy="217.13" r="3.16"/><circle cx="1091.37" cy="225.42" r="2.74"/><circle cx="1091.37" cy="233.70" r="2.74"/><circle cx="1091.37" cy="241.98" r="2.23"/><circle cx="1091.37" cy="250.27" r="2.23"/><circle cx="1091.37" cy="258.55" r="2.23"/><circle cx="1091.37" cy="275.12" r="1.58"/><circle cx="1091.37" cy="291.68" r="1.58"/></g>
<line x1="50.0" y1="598.5" x2="1108.0" y2="598.5" stroke="#707070" stroke-width="0.9"/>
<line x1="50.0" y1="623.0" x2="1108.0" y2="623.0" stroke="#000" stroke-width="1.6"/>
<line x1="83.06" y1="623.0" x2="83.06" y2="648.0" stroke="#000" stroke-width="1.5"/>
<line x1="116.12" y1="623.0" x2="116.12" y2="648.0" stroke="#000" stroke-width="1.5"/>
<line x1="149.19" y1="623.0" x2="149.19" y2="648.0" stroke="#000" stroke-width="1.5"/>
<line x1="182.25" y1="598.5" x2="182.25" y2="648.0" stroke="#000" stroke-width="1.5"/>
<line x1="215.31" y1="623.0" x2="215.31" y2="648.0" stroke="#000" stroke-width="1.5"/>
<line x1="248.38" y1="623.0" x2="248.38" y2="648.0" stroke="#000" stroke-width="1.5"/>
<line x1="281.44" y1="623.0" x2="281.44" y2="648.0" stroke="#000" stroke-width="1.5"/>
<line x1="314.50" y1="598.5" x2="314.50" y2="648.0" stroke="#000" stroke-width="1.5"/>
<line x1="347.56" y1="623.0" x2="347.56" y2="648.0" stroke="#000" stroke-width="1.5"/>
<line x1="380.62" y1="623.0" x2="380.62" y2="648.0" stroke="#000" stroke-width="1.5"/>
<line x1="413.69" y1="623.0" x2="413.69" y2="648.0" stroke="#000" stroke-width="1.5"/>
<line x1="446.75" y1="598.5" x2="446.75" y2="648.0" stroke="#000" stroke-width="1.5"/>
<line x1="479.81" y1="623.0" x2="479.81" y2="648.0" stroke="#000" stroke-width="1.5"/>
<line x1="512.88" y1="623.0" x2="512.88" y2="648.0" stroke="#000" stroke-width="1.5"/>
<line x1="545.94" y1="623.0" x2="545.94" y2="648.0" stroke="#000" stroke-width="1.5"/>
<line x1="579.00" y1="598.5" x2="579.00" y2="648.0" stroke="#000" stroke-width="1.5"/>
<line x1="612.06" y1="623.0" x2="612.06" y2="648.0" stroke="#000" stroke-width="1.5"/>
<line x1="645.12" y1="623.0" x2="645.12" y2="648.0" stroke="#000" stroke-width="1.5"/>
<line x1="678.19" y1="623.0" x2="678.19" y2="648.0" stroke="#000" stroke-width="1.5"/>
<line x1="711.25" y1="598.5" x2="711.25" y2="648.0" stroke="#000" stroke-width="1.5"/>
<line x1="744.31" y1="623.0" x2="744.31" y2="648.0" stroke="#000" stroke-width="1.5"/>
<line x1="777.38" y1="623.0" x2="777.38" y2="648.0" stroke="#000" stroke-width="1.5"/>
<line x1="810.44" y1="623.0" x2="810.44" y2="648.0" stroke="#000" stroke-width="1.5"/>
<line x1="843.50" y1="598.5" x2="843.50" y2="648.0" stroke="#000" stroke-width="1.5"/>
<line x1="876.56" y1="623.0" x2="876.56" y2="648.0" stroke="#000" stroke-width="1.5"/>
<line x1="909.62" y1="623.0" x2="909.62" y2="648.0" stroke="#000" stroke-width="1.5"/>
<line x1="942.69" y1="623.0" x2="942.69" y2="648.0" stroke="#000" stroke-width="1.5"/>
<line x1="975.75" y1="598.5" x2="975.75" y2="648.0" stroke="#000" stroke-width="1.5"/>
<line x1="1008.81" y1="623.0" x2="1008.81" y2="648.0" stroke="#000" stroke-width="1.5"/>
<line x1="1041.88" y1="623.0" x2="1041.88" y2="648.0" stroke="#000" stroke-width="1.5"/>
<line x1="1074.94" y1="623.0" x2="1074.94" y2="648.0" stroke="#000" stroke-width="1.5"/>
<rect x="50.0" y="10.0" width="1058.0" height="638.0" fill="none" stroke="#000" stroke-width="2"/>
<line x1="44" y1="582.00" x2="49" y2="582.00" stroke="#222" stroke-width="1.2"/>
<text class="t" x="41" y="586">-30</text>
<line x1="44" y1="499.17" x2="49" y2="499.17" stroke="#222" stroke-width="1.2"/>
<text class="t" x="41" y="503">-20</text>
<line x1="44" y1="416.33" x2="49" y2="416.33" stroke="#222" stroke-width="1.2"/>
<text class="t" x="41" y="420">-10</text>
<line x1="44" y1="333.50" x2="49" y2="333.50" stroke="#222" stroke-width="1.2"/>
<text class="t" x="41" y="338">0</text>
<line x1="44" y1="250.67" x2="49" y2="250.67" stroke="#222" stroke-width="1.2"/>
<text class="t" x="41" y="255">10</text>
<line x1="44" y1="167.83" x2="49" y2="167.83" stroke="#222" stroke-width="1.2"/>
<text class="t" x="41" y="172">20</text>
<line x1="44" y1="85.00" x2="49" y2="85.00" stroke="#222" stroke-width="1.2"/>
<text class="t" x="41" y="89">30</text>
<line x1="44" y1="10.5" x2="49" y2="10.5" stroke="#000" stroke-width="1.2"/>
<line x1="44" y1="598.5" x2="49" y2="598.5" stroke="#000" stroke-width="1.2"/>
<text class="m" x="116.12" y="615.15">Oct</text>
<text class="m" x="248.38" y="615.15">Nov</text>
<text class="m" x="380.62" y="615.15">Dec</text>
<text class="m" x="512.88" y="615.15">Jan</text>
<text class="m" x="645.12" y="615.15">Feb</text>
<text class="m" x="777.38" y="615.15">Mar</text>
<text class="m" x="909.62" y="615.15">Apr</text>
<text class="m" x="1041.88" y="615.15">May</text>
<text class="d" x="66.63" y="642.5">1</text>
<text class="d" x="99.69" y="642.5">2</text>
<text class="d" x="132.76" y="642.5">3</text>
<text class="d" x="165.82" y="642.5">4</text>
<text class="d" x="198.88" y="642.5">1</text>
<text class="d" x="231.94" y="642.5">2</text>
<text class="d" x="265.01" y="642.5">3</text>
<text class="d" x="298.07" y="642.5">4</text>
<text class="d" x="331.13" y="642.5">1</text>
<text class="d" x="364.19" y="642.5">2</text>
<text class="d" x="397.26" y="642.5">3</text>
<text class="d" x="430.32" y="642.5">4</text>
<text class="d" x="463.38" y="642.5">1</text>
<text class="d" x="496.44" y="642.5">2</text>
<text class="d" x="529.51" y="642.5">3</text>
<text class="d" x="562.57" y="642.5">4</text>
<text class="d" x="595.63" y="642.5">1</text>
<text class="d" x="628.69" y="642.5">2</text>
<text class="d" x="661.76" y="642.5">3</text>
<text class="d" x="694.82" y="642.5">4</text>
<text class="d" x="727.88" y="642.5">1</text>
<text class="d" x="760.94" y="642.5">2</text>
<text class="d" x="794.01" y="642.5">3</text>
<text class="d" x="827.07" y="642.5">4</text>
<text class="d" x="860.13" y="642.5">1</text>
<text class="d" x="893.19" y="642.5">2</text>
<text class="d" x="926.26" y="642.5">3</text>
<text class="d" x="959.32" y="642.5">4</text>
<text class="d" x="992.38" y="642.5">1</text>
<text class="d" x="1025.44" y="642.5">2</text>
<text class="d" x="1058.51" y="642.5">3</text>
<text class="d" x="1091.57" y="642.5">4</text>
<text class="yl" transform="translate(20.3,305) rotate(-90)">Temperature (C)</text>
</svg></body></html>
